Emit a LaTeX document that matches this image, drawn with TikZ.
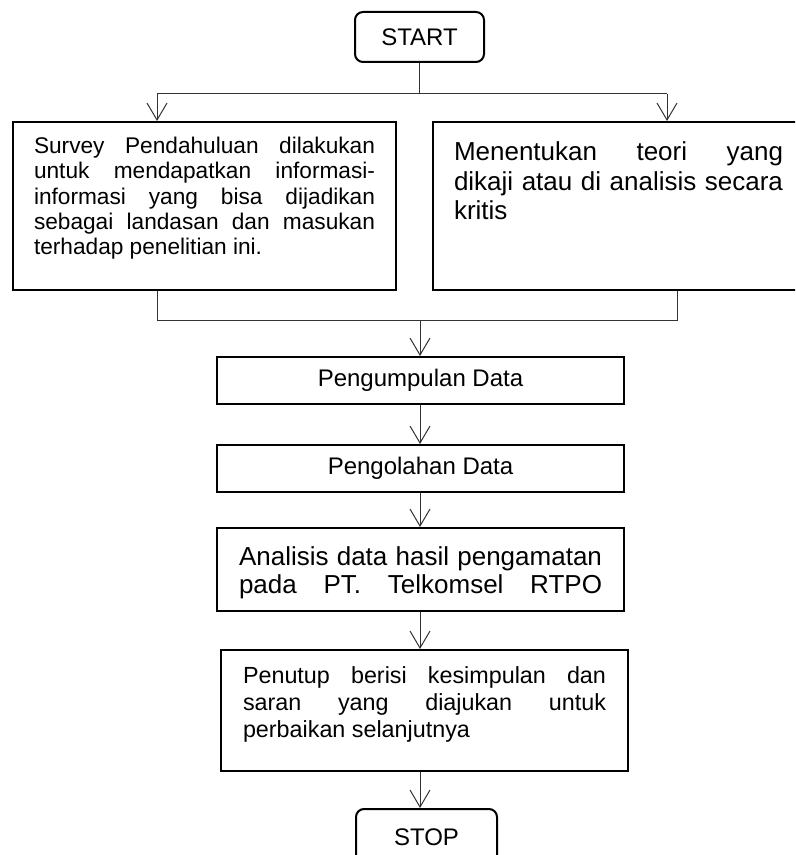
\documentclass[tikz,border=0pt]{standalone}
\usepackage{fontspec}
\setmainfont{Liberation Sans}
\usetikzlibrary{arrows.meta}
\begin{document}
\begin{tikzpicture}[x=0.75pt,y=-0.75pt,
  box/.style={draw=black, line width=1.5pt, rectangle, anchor=north west, inner xsep=15.75pt},
  term/.style={draw=black, line width=1.5pt, rounded corners=6pt, font=\fontsize{18pt}{21pt}\selectfont},
  conn/.style={draw=black!80, line width=0.75pt},
  arr/.style={conn, -{Straight Barb[length=12.75pt,width=15pt]}},
  midtext/.style={font=\fontsize{18pt}{21pt}\selectfont, minimum width=305.25pt, minimum height=35.25pt}
]
\useasboundingbox (0,0) rectangle (795,855);
\clip (0,0) rectangle (795,855);

% terminals
\node[term, minimum width=96.75pt, minimum height=37.5pt] (start) at (419.5,37) {START};
\node[term, anchor=north, inner ysep=15pt, minimum width=105.75pt] (stop) at (426.5,808) {STOP};

% top boxes
\node[box, inner ysep=11.25pt] (b1) at (12,121)
  {\parbox[t][103.5pt][t]{255.75pt}{\fontsize{17pt}{19pt}\selectfont\frenchspacing\hyphenpenalty=10000\tolerance=10000\hbadness=10000
  Survey Pendahuluan dilakukan\linebreak
  untuk mendapatkan informasi-\linebreak
  informasi yang bisa dijadikan\linebreak
  sebagai landasan dan masukan\linebreak
  terhadap penelitian ini.}};

\node[box, inner ysep=15pt] (b2) at (432,121)
  {\parbox[t][96pt][t]{246.75pt}{\fontsize{19.5pt}{22pt}\selectfont\frenchspacing\hyphenpenalty=10000\tolerance=10000\hbadness=10000
  Menentukan teori yang\linebreak
  dikaji atau di analisis secara\linebreak
  kritis}};

% middle boxes
\node[box, midtext, inner xsep=0pt] (b3) at (216,356) {Pengumpulan Data};
\node[box, midtext, inner xsep=0pt] (b4) at (216,444) {Pengolahan Data};

\node[box, inner xsep=16.5pt, inner ysep=14.25pt] (b5) at (216,527)
  {\parbox[t][33.75pt][t]{272.25pt}{\fontsize{19.5pt}{21pt}\selectfont\frenchspacing\hyphenpenalty=10000\tolerance=10000\hbadness=10000\parfillskip=0pt
  Analisis data hasil pengamatan\linebreak
  pada PT. Telkomsel RTPO}};

\node[box, inner xsep=16.5pt, inner ysep=12.75pt] (b6) at (220,649)
  {\parbox[t][65.25pt][t]{272.25pt}{\fontsize{17.5pt}{20pt}\selectfont\frenchspacing\hyphenpenalty=10000\tolerance=10000\hbadness=10000
  Penutup berisi kesimpulan dan\linebreak
  saran yang diajukan untuk\linebreak
  perbaikan selanjutnya}};

% connectors
\coordinate (s1) at (157,94);
\coordinate (s2) at (667,94);
\draw[conn] (start.south) -- (start.south |- s1);
\draw[conn] (s1) -- (s2);
\draw[arr] (s1) -- (s1 |- b1.north);
\draw[arr] (s2) -- (s2 |- b2.north);

\coordinate (m1) at (157,320);
\coordinate (m2) at (677,320);
\coordinate (ax) at (420,320);
\draw[conn] (m1 |- b1.south) -- (m1) -- (m2) -- (m2 |- b2.south);
\draw[arr] (ax) -- (ax |- b3.north);
\draw[arr] (ax |- b3.south) -- (ax |- b4.north);
\draw[arr] (ax |- b4.south) -- (ax |- b5.north);
\draw[arr] (ax |- b5.south) -- (ax |- b6.north);
\draw[arr] (ax |- b6.south) -- (ax |- stop.north);
\end{tikzpicture}
\end{document}
